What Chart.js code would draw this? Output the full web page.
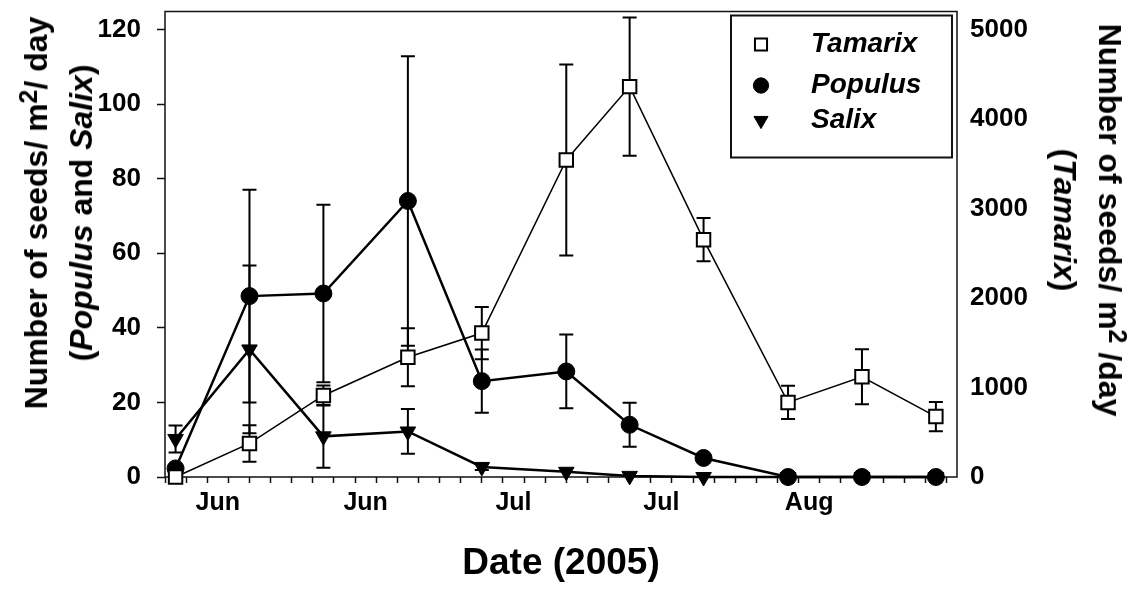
<!DOCTYPE html>
<html>
<head>
<meta charset="utf-8">
<script src="https://cdn.jsdelivr.net/npm/chart.js@4"></script>
<style>
  body { margin: 0; background: #fff; }
  #wrap { position: relative; width: 1147px; height: 594px; }
  .title {
    position: absolute;
    font: bold 32px "Liberation Sans", Arial, sans-serif;
    color: #000;
    white-space: nowrap;
    text-align: center;
    line-height: 45px;
  }
  .title sup { font-size: 0.78em; vertical-align: 0.42em; line-height: 0; }
  #ytitle { left: 59px; top: 213px; transform: translate(-50%, -50%) rotate(-90deg); }
  #y2title { left: 1087px; top: 220px; transform: translate(-50%, -50%) rotate(90deg); }
  #xtitle { left: 561px; top: 562px; font-size: 37px; line-height: normal; transform: translate(-50%, -50%); }
</style>
</head>
<body>
<div id="wrap">
  <canvas id="chart" width="1147" height="594"></canvas>
  <div class="title" id="ytitle">Number of seeds/ m<sup>2</sup>/ day<br>(<i>Populus</i> and <i>Salix</i>)</div>
  <div class="title" id="y2title">Number of seeds/ m<sup>2</sup> /day<br>(<i>Tamarix</i>)</div>
  <div class="title" id="xtitle">Date (2005)</div>
</div>
<script>
// sampling dates, counted in days from 31 May 2005 (1 = 1 June)
const sampleDays = [2, 9, 16, 24, 31, 39, 45, 52, 60, 67, 74];

// seeds / m2 / day, mean and standard error
const tamarix   = [0, 375, 911, 1337, 1608, 3542, 4361, 2651, 833, 1120, 675];
const tamarixSE = [0, 204, 112, 324, 292, 1067, 772, 241, 186, 308, 163];
const populus   = [2.3, 48.5, 49.2, 74.0, 25.7, 28.3, 14.0, 5.1, 0, 0, 0];
const populusSE = [0, 28.5, 23.8, 38.8, 8.5, 9.9, 5.9, 0, 0, 0, 0];
const salix     = [10.2, 34.2, 10.9, 12.2, 2.7, 1.4, 0.3, 0, 0, 0, 0];
const salixSE   = [3.6, 22.5, 8.4, 6.0, 0.8, 0, 0, 0, 0, 0, 0];

// month labels on the date axis
const monthTickDays = [6, 20, 34, 48, 62];
const monthTickLabels = ['Jun', 'Jun', 'Jul', 'Jul', 'Aug'];

// right axis (Tamarix) tick values
const tamarixTicks = [0, 1000, 2000, 3000, 4000, 5000];

const FONT = '"Liberation Sans", Arial, sans-serif';

function toPoints(values) {
  return values.map((v, i) => ({ x: sampleDays[i], y: v }));
}

// vertical error bars with caps, drawn under the markers
const errorBars = {
  id: 'errorBars',
  beforeDatasetsDraw(chart) {
    const ctx = chart.ctx;
    const xs = chart.scales.x;
    ctx.save();
    ctx.strokeStyle = '#000';
    ctx.lineWidth = 2;
    chart.data.datasets.forEach(ds => {
      const ys = chart.scales[ds.yAxisID];
      ds.data.forEach((p, i) => {
        const e = ds.errors[i];
        if (!e) return;
        const px = xs.getPixelForValue(p.x);
        const top = ys.getPixelForValue(p.y + e);
        const bot = ys.getPixelForValue(p.y - e);
        ctx.beginPath();
        ctx.moveTo(px, top); ctx.lineTo(px, bot);
        ctx.moveTo(px - 7, top); ctx.lineTo(px + 7, top);
        ctx.moveTo(px - 7, bot); ctx.lineTo(px + 7, bot);
        ctx.stroke();
      });
    });
    ctx.restore();
  }
};

// box around the plotting area
const frame = {
  id: 'frame',
  beforeDatasetsDraw(chart) {
    const a = chart.chartArea;
    const ctx = chart.ctx;
    ctx.save();
    ctx.strokeStyle = '#111';
    ctx.lineWidth = 1.5;
    ctx.strokeRect(a.left, a.top, a.right - a.left, a.bottom - a.top);
    ctx.restore();
  }
};

// boxed legend in the upper right corner
const boxLegend = {
  id: 'boxLegend',
  afterDatasetsDraw(chart) {
    const ctx = chart.ctx;
    const a = chart.chartArea;
    const left = a.right - 226, top = a.top + 4, w = 221, h = 142;
    const rows = [29, 70, 105];
    ctx.save();
    ctx.fillStyle = '#fff';
    ctx.fillRect(left, top, w, h);
    ctx.strokeStyle = '#111';
    ctx.lineWidth = 2;
    ctx.strokeRect(left, top, w, h);
    chart.data.datasets.forEach((ds, i) => {
      const cy = top + rows[i];
      ctx.fillStyle = ds.pointBackgroundColor;
      ctx.strokeStyle = ds.pointBorderColor;
      ctx.lineWidth = ds.pointBorderWidth;
      Chart.helpers.drawPoint(ctx, {
        pointStyle: ds.pointStyle,
        radius: ds.pointRadius * 0.9,
        rotation: ds.pointRotation || 0,
        borderWidth: ds.pointBorderWidth
      }, left + 30, cy);
      ctx.fillStyle = '#000';
      ctx.font = 'italic bold 28px ' + FONT;
      ctx.textBaseline = 'middle';
      ctx.textAlign = 'left';
      ctx.fillText(ds.label, left + 80, cy);
    });
    ctx.restore();
  }
};

new Chart(document.getElementById('chart'), {
  type: 'line',
  data: {
    datasets: [
      {
        label: 'Tamarix',
        data: toPoints(tamarix),
        errors: tamarixSE,
        yAxisID: 'y2',
        borderColor: '#000',
        borderWidth: 1.5,
        pointStyle: 'rect',
        pointRadius: 9.5,
        pointBackgroundColor: '#fff',
        pointBorderColor: '#000',
        pointBorderWidth: 2,
        clip: false
      },
      {
        label: 'Populus',
        data: toPoints(populus),
        errors: populusSE,
        yAxisID: 'y',
        borderColor: '#000',
        borderWidth: 2.5,
        pointStyle: 'circle',
        pointRadius: 8.5,
        pointBackgroundColor: '#000',
        pointBorderColor: '#000',
        pointBorderWidth: 1,
        clip: false
      },
      {
        label: 'Salix',
        data: toPoints(salix),
        errors: salixSE,
        yAxisID: 'y',
        borderColor: '#000',
        borderWidth: 2.5,
        pointStyle: 'triangle',
        pointRotation: 180,
        pointRadius: 9,
        pointBackgroundColor: '#000',
        pointBorderColor: '#000',
        pointBorderWidth: 1,
        clip: false
      }
    ]
  },
  options: {
    responsive: false,
    animation: false,
    layout: { padding: { top: 9, left: 0, right: 0, bottom: 0 } },
    plugins: { legend: { display: false }, tooltip: { enabled: false } },
    scales: {
      x: {
        type: 'linear',
        position: 'bottom',
        min: 1,
        max: 76,
        afterBuildTicks(scale) {
          const ticks = [];
          for (let d = 1; d <= 75; d += 2) ticks.push({ value: d });
          monthTickDays.forEach(d => ticks.push({ value: d }));
          ticks.sort((a, b) => a.value - b.value);
          scale.ticks = ticks;
        },
        afterFit(scale) {
          scale.height = 117;
          scale.paddingLeft = 0;
          scale.paddingRight = 0;
        },
        border: { display: false },
        grid: {
          drawOnChartArea: false,
          drawTicks: true,
          tickLength: 6,
          tickWidth: 1.5,
          tickColor: ctx => (ctx.tick && monthTickDays.includes(ctx.tick.value)) ? 'rgba(0,0,0,0)' : '#111'
        },
        ticks: {
          autoSkip: false,
          maxRotation: 0,
          padding: 5,
          color: '#000',
          font: { family: FONT, size: 25, weight: 'bold' },
          callback: v => {
            const k = monthTickDays.indexOf(v);
            return k >= 0 ? monthTickLabels[k] : '';
          }
        }
      },
      y: {
        position: 'left',
        min: 0,
        max: 124.8,
        afterFit(scale) {
          scale.width = 165;
          scale.paddingTop = 0;
          scale.paddingBottom = 0;
        },
        border: { display: false },
        grid: { drawOnChartArea: false, tickLength: 8, tickWidth: 1.5, tickColor: '#111' },
        ticks: {
          stepSize: 20,
          includeBounds: false,
          padding: 16,
          color: '#000',
          font: { family: FONT, size: 26, weight: 'bold' }
        }
      },
      y2: {
        position: 'right',
        min: 0,
        max: 5200,
        afterBuildTicks(scale) {
          scale.ticks = tamarixTicks.map(v => ({ value: v }));
        },
        afterFit(scale) {
          scale.width = 190;
          scale.paddingTop = 0;
          scale.paddingBottom = 0;
        },
        border: { display: false },
        grid: { display: false },
        ticks: {
          padding: 5,
          color: '#000',
          font: { family: FONT, size: 26, weight: 'bold' },
          callback: v => String(v)
        }
      }
    }
  },
  plugins: [frame, errorBars, boxLegend]
});
</script>
</body>
</html>
